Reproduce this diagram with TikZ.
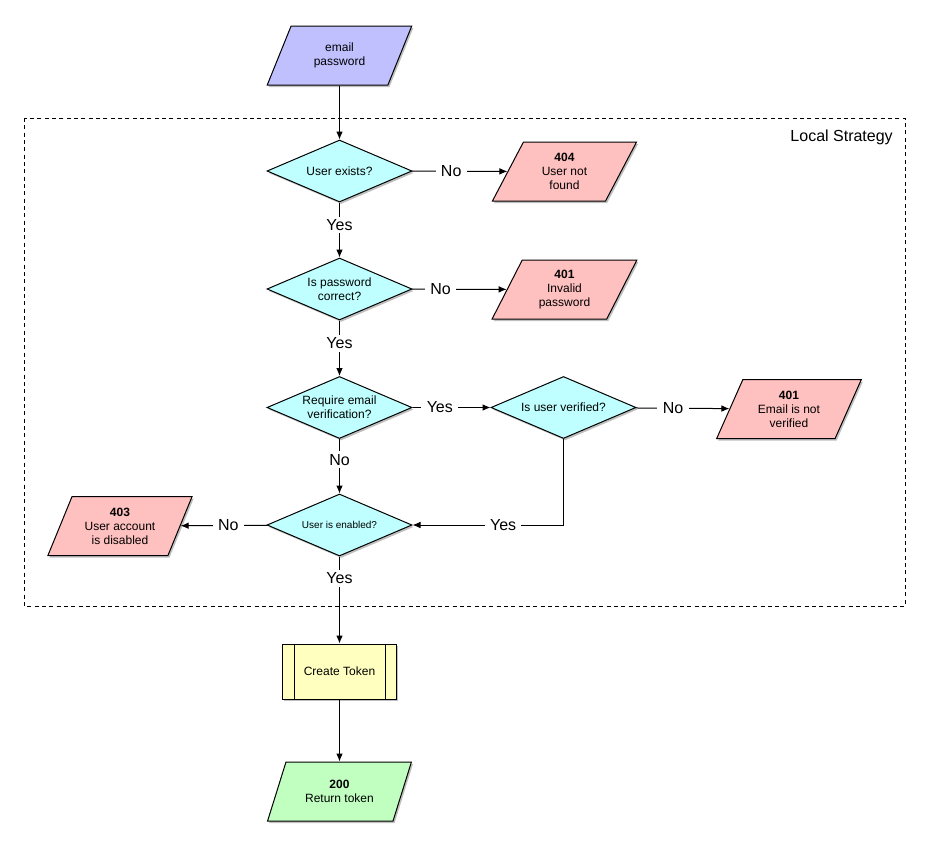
\documentclass[tikz,border=0pt]{standalone}
\usepackage{fontspec}
\setmainfont{Liberation Sans}
\usetikzlibrary{shapes.geometric,arrows.meta,shadows}
\definecolor{inblue}{HTML}{C0C0FF}
\definecolor{decfill}{HTML}{C0FFFF}
\definecolor{errfill}{HTML}{FFC0C0}
\definecolor{procfill}{HTML}{FFFFC0}
\definecolor{okfill}{HTML}{C0FFC0}
\begin{document}
\begin{tikzpicture}[x=0.75pt,y=-0.75pt,
  base/.style={draw=black, line width=0.75pt, align=center,
    drop shadow={shadow xshift=1.2pt, shadow yshift=-1.5pt, fill=black, opacity=0.25},
    font=\fontsize{9}{10.5}\selectfont, inner sep=2pt},
  io/.style={base, trapezium, trapezium left angle=65.4, trapezium right angle=114.6,
    trapezium stretches=true, minimum width=108.75pt, minimum height=44.25pt},
  dec/.style={base, diamond, aspect=2.34, inner sep=0pt, minimum width=108.75pt,
    minimum height=46.5pt, fill=decfill},
  proc/.style={base, rectangle, minimum width=85.5pt, minimum height=41.25pt, fill=procfill},
  flow/.style={line width=0.75pt, -{Latex[length=6pt,width=5pt]}},
  lbl/.style={fill=white, inner xsep=4pt, inner ysep=2pt, font=\fontsize{12}{14}\selectfont},
  region/.style={draw=black, line width=0.75pt, dash pattern=on 3pt off 2.5pt}
]
\useasboundingbox (0,0) rectangle (929,851);

% Local strategy region
\draw[region] (24,118) rectangle (905,606);
\node[anchor=east, font=\fontsize{12}{14}\selectfont, inner sep=0pt] (title) at (893,137) {Local Strategy};

% nodes
\node[io, fill=inblue] (in) at (339.5,55.5) {email\\password};
\node[dec] (d1) at (339.5,171) {User exists?};
\node[io, fill=errfill] (e404) at (564.5,171.5) {\textbf{404}\\User not\\found};
\node[dec] (d2) at (339.5,289) {Is password\\correct?};
\node[io, fill=errfill] (e401a) at (564.5,289.5) {\textbf{401}\\Invalid\\password};
\node[dec] (d3) at (339.5,407.5) {Require email\\verification?};
\node[dec] (d4) at (563.5,407.5) {Is user verified?};
\node[io, fill=errfill] (e401b) at (789,409) {\textbf{401}\\Email is not\\verified};
\node[dec, font=\fontsize{7.5}{9}\selectfont] (d5) at (339.5,525) {User is enabled?};
\node[io, fill=errfill] (e403) at (120,526) {\textbf{403}\\User account\\is disabled};
\node[proc] (tok) at (339.5,671.5) {Create Token};
\draw[line width=0.75pt] ([xshift=9pt]tok.north west) -- ([xshift=9pt]tok.south west);
\draw[line width=0.75pt] ([xshift=-9pt]tok.north east) -- ([xshift=-9pt]tok.south east);
\node[io, fill=okfill] (ok) at (339.5,791.5) {\textbf{200}\\Return token};

% connectors
\draw[flow] (in) -- (d1);
\draw[flow] (d1) -- node[lbl, pos=0.41] {No} (e404);
\draw[flow] (d1) -- node[lbl, pos=0.41] {Yes} (d2);
\draw[flow] (d2) -- node[lbl, pos=0.3] {No} (e401a);
\draw[flow] (d2) -- node[lbl, pos=0.41] {Yes} (d3);
\draw[flow] (d3) -- node[lbl, pos=0.35] {Yes} (d4);
\draw[flow] (d4) -- node[lbl, pos=0.4] {No} (e401b);
\draw[flow] (d3) -- node[lbl, pos=0.38] {No} (d5);
\draw[flow] (d4.south) |- node[lbl, pos=0.7] {Yes} (d5.east);
\draw[flow] (d5) -- node[lbl, pos=0.45] {No} (e403);
\draw[flow] (d5) -- node[lbl, pos=0.25] {Yes} (tok);
\draw[flow] (tok) -- (ok);
\end{tikzpicture}
\end{document}
